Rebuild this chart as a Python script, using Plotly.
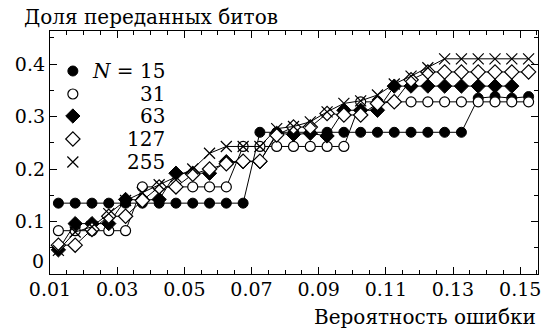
import plotly.graph_objects as go

# x grid: error probability
x_vals = [0.0125 + 0.005 * i for i in range(29)]

n15 = [0.135] * 12 + [0.27] * 13 + [0.335, 0.338, 0.335, 0.338]
n31 = [0.0825] * 5 + [0.166] * 6 + [0.243] * 7 + [0.328] * 11
n63 = [0.046, 0.096, 0.096, 0.096, 0.142, 0.141, 0.142, 0.192, 0.192, 0.192,
       0.214, 0.214, 0.214, 0.268, 0.266, 0.268, 0.263, 0.312, 0.312, 0.312,
       0.358, 0.358, 0.358, 0.358, 0.358, 0.358, 0.358, 0.358, None]
n127 = [0.055, 0.055, 0.085, 0.11, 0.11, 0.14, 0.166, 0.166, 0.19, 0.2,
        0.21, 0.215, 0.215, 0.265, 0.28, 0.28, 0.306, 0.303, 0.303, 0.325,
        0.328, 0.37, 0.385, 0.385, 0.385, 0.385, 0.385, 0.385, 0.385]
n255 = [0.045, 0.08, 0.09, 0.115, 0.14, 0.155, 0.17, 0.185, 0.2, 0.23,
        0.243, 0.243, 0.243, 0.277, 0.281, 0.29, 0.309, 0.325, 0.33, 0.341,
        0.362, 0.377, 0.393, 0.41, 0.41, 0.41, 0.41, 0.41, 0.41]

series_names = ["<i>N</i> = 15", "31", "63", "127", "255"]
series_values = [n15, n31, n63, n127, n255]

x_tick_vals = [0.01, 0.03, 0.05, 0.07, 0.09, 0.11, 0.13, 0.15]
x_tick_text = ["0.01", "0.03", "0.05", "0.07", "0.09", "0.11", "0.13", "0.15"]
y_tick_vals = [0, 0.1, 0.2, 0.3, 0.4]
y_tick_text = ["", "0.1", "0.2", "0.3", "0.4"]
y_zero_label = "0"

title_text = "Доля переданных битов"
xlabel_text = "Вероятность ошибки"

FONT = "DejaVu Serif"
FS = 20
TKS = 19

markers = [
    dict(symbol="circle", size=10, color="black", line=dict(color="black", width=1)),
    dict(symbol="circle", size=10, color="white", line=dict(color="black", width=1.2)),
    dict(symbol="diamond", size=11, color="black", line=dict(color="black", width=1)),
    dict(symbol="diamond", size=11, color="white", line=dict(color="black", width=1.2)),
    dict(symbol="x-thin-open", size=11, color="black", line=dict(color="black", width=1.2)),
]

fig = go.Figure()
for name, vals, mk in zip(series_names, series_values, markers):
    fig.add_trace(go.Scatter(
        x=x_vals, y=vals, mode="lines+markers", name=name,
        line=dict(color="black", width=1), marker=mk, showlegend=False,
        cliponaxis=False,
    ))

# legend drawn on an overlay axis measured in pixels
L, R, T, B = 50, 541, 31, 274
leg_rows = [71, 94, 116, 139, 162]
for name, mk, yy in zip(series_names, markers, leg_rows):
    fig.add_trace(go.Scatter(x=[73], y=[yy], mode="markers", marker=mk,
                             xaxis="x2", yaxis="y2", showlegend=False))
    fig.add_annotation(x=168, y=yy, xref="x2", yref="y2", text=name,
                       showarrow=False, xanchor="right", yanchor="middle",
                       font=dict(family=FONT, size=FS, color="black"))

fig.add_annotation(x=(22 - L) / (R - L), y=(B - 17) / (B - T), xref="paper", yref="paper",
                   text=title_text, showarrow=False, xanchor="left", yanchor="middle",
                   font=dict(family=FONT, size=FS, color="black"))
fig.add_annotation(x=1.0, y=(B - 317) / (B - T), xref="paper", yref="paper",
                   text=xlabel_text, showarrow=False, xanchor="right", yanchor="middle",
                   font=dict(family=FONT, size=FS, color="black"))
# zero label on the y axis, sitting on the x axis line
fig.add_annotation(x=-4 / (R - L), y=0, xref="paper", yref="y", text=y_zero_label,
                   showarrow=False, xanchor="right", yanchor="bottom",
                   font=dict(family=FONT, size=TKS, color="black"))

axis_common = dict(
    showline=True, linecolor="black", linewidth=1.3, mirror="ticks",
    ticks="inside", ticklen=7, tickwidth=1, tickcolor="black",
    showgrid=False, zeroline=False, ticklabeloverflow="allow",
    tickfont=dict(family=FONT, size=TKS, color="black"),
)

fig.update_layout(
    width=544, height=329,
    margin=dict(l=L, r=544 - R, t=T, b=329 - B),
    plot_bgcolor="white", paper_bgcolor="white",
    xaxis=dict(range=[0.01, 0.1553], tickvals=x_tick_vals, ticktext=x_tick_text,
               ticklabelstandoff=-2,
               minor=dict(dtick=0.005, tick0=0.01, ticks="inside", ticklen=4,
                          tickcolor="black", tickwidth=1),
               **axis_common),
    yaxis=dict(range=[0, 0.463], tickvals=y_tick_vals, ticktext=y_tick_text,
               minor=dict(dtick=0.05, tick0=0, ticks="inside", ticklen=4,
                          tickcolor="black", tickwidth=1),
               **axis_common),
    xaxis2=dict(range=[L, R], overlaying="x", visible=False, fixedrange=True),
    yaxis2=dict(range=[B, T], overlaying="y", visible=False, fixedrange=True),
    showlegend=False,
)

fig.write_html("out.html")
